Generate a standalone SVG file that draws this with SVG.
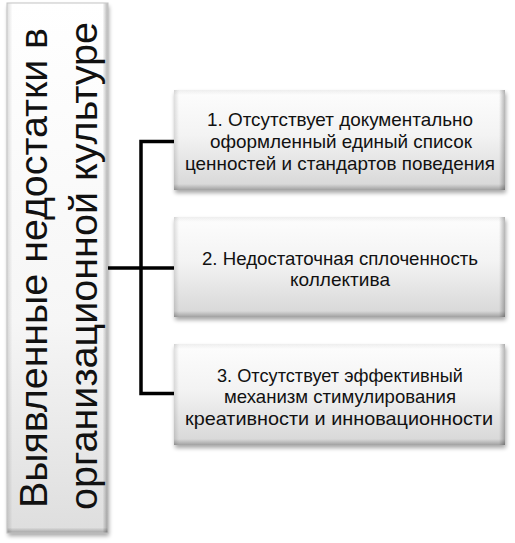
<svg xmlns="http://www.w3.org/2000/svg" width="515" height="543" viewBox="0 0 515 543">
<style>
  .lbl { font-family: "Liberation Sans", Arial, sans-serif; font-size: 19px; fill: #111; text-anchor: middle; }
  .big { font-family: "Liberation Sans", Arial, sans-serif; font-size: 39px; fill: #111; text-anchor: middle; }
  .conn { fill: none; stroke: #000; stroke-width: 3.5; stroke-linejoin: miter; stroke-linecap: butt; }
  .shadow { fill: #000; opacity: 0.35; filter: url(#blur); }
  .face { fill: url(#faceGrad); }
  .bevR { fill: url(#bevR); }
  .bevB { fill: url(#bevB); }
  .bevL { fill: url(#bevL); }
  .bevT { fill: url(#bevT); }
</style>
<defs>
  <filter id="blur" x="-10%" y="-10%" width="120%" height="130%">
    <feGaussianBlur stdDeviation="2.2"/>
  </filter>
  <linearGradient id="faceGrad" x1="0" y1="0" x2="0" y2="1">
    <stop offset="0" stop-color="#fdfdfd"/>
    <stop offset="0.45" stop-color="#f3f3f3"/>
    <stop offset="1" stop-color="#d6d6d6"/>
  </linearGradient>
  <linearGradient id="leftGrad" x1="0" y1="0" x2="0" y2="1">
    <stop offset="0" stop-color="#ffffff"/>
    <stop offset="0.6" stop-color="#f6f6f6"/>
    <stop offset="1" stop-color="#dedede"/>
  </linearGradient>
  <linearGradient id="bevR" x1="0" y1="0" x2="1" y2="0">
    <stop offset="0" stop-color="#000" stop-opacity="0"/>
    <stop offset="1" stop-color="#000" stop-opacity="0.28"/>
  </linearGradient>
  <linearGradient id="bevB" x1="0" y1="0" x2="0" y2="1">
    <stop offset="0" stop-color="#000" stop-opacity="0"/>
    <stop offset="1" stop-color="#000" stop-opacity="0.25"/>
  </linearGradient>
  <linearGradient id="bevL" x1="0" y1="0" x2="1" y2="0">
    <stop offset="0" stop-color="#000" stop-opacity="0.12"/>
    <stop offset="1" stop-color="#000" stop-opacity="0"/>
  </linearGradient>
  <linearGradient id="bevT" x1="0" y1="0" x2="0" y2="1">
    <stop offset="0" stop-color="#000" stop-opacity="0.06"/>
    <stop offset="1" stop-color="#000" stop-opacity="0"/>
  </linearGradient>
</defs>

<g id="node-main">
  <rect class="shadow" x="8" y="6" width="101" height="530"/>
  <rect x="7" y="3" width="101" height="530" fill="url(#leftGrad)" stroke="#c4c4c4" stroke-width="1"/>
  <rect class="bevL" x="7.5" y="3.5" width="5" height="529"/>
  <rect class="bevR" x="102.5" y="3.5" width="5" height="529"/>
  <rect class="bevB" x="7.5" y="527.5" width="100" height="5"/>
  <text class="big" transform="translate(47,268) rotate(-90)" textLength="480" lengthAdjust="spacingAndGlyphs">Выявленные недостатки в</text>
  <text class="big" transform="translate(97,266) rotate(-90)" textLength="488" lengthAdjust="spacingAndGlyphs">организационной культуре</text>
</g>

<g id="connectors">
  <path class="conn" d="M174,141.5 H141 V393.5 H174"/>
  <path class="conn" d="M108,268 H174"/>
</g>

<g id="node-1">
  <rect class="shadow" x="175" y="93" width="331" height="100"/>
  <rect class="face" x="174" y="90" width="331" height="100"/>
  <rect class="bevT" x="174" y="90" width="331" height="5"/>
  <rect class="bevL" x="174" y="90" width="5" height="100"/>
  <rect class="bevR" x="499" y="90" width="6" height="100"/>
  <rect class="bevB" x="174" y="184" width="331" height="6"/>
  <text class="lbl" x="340" y="126" textLength="266" lengthAdjust="spacingAndGlyphs">1. Отсутствует документально</text>
  <text class="lbl" x="341" y="148" textLength="262" lengthAdjust="spacingAndGlyphs">оформленный единый список</text>
  <text class="lbl" x="340" y="170" textLength="310" lengthAdjust="spacingAndGlyphs">ценностей и стандартов поведения</text>
</g>

<g id="node-2">
  <rect class="shadow" x="175" y="220" width="331" height="100"/>
  <rect class="face" x="174" y="217" width="331" height="100"/>
  <rect class="bevT" x="174" y="217" width="331" height="5"/>
  <rect class="bevL" x="174" y="217" width="5" height="100"/>
  <rect class="bevR" x="499" y="217" width="6" height="100"/>
  <rect class="bevB" x="174" y="311" width="331" height="6"/>
  <text class="lbl" x="340" y="264.5" textLength="276" lengthAdjust="spacingAndGlyphs">2. Недостаточная сплоченность</text>
  <text class="lbl" x="340" y="286" textLength="100" lengthAdjust="spacingAndGlyphs">коллектива</text>
</g>

<g id="node-3">
  <rect class="shadow" x="175" y="347" width="331" height="101"/>
  <rect class="face" x="174" y="344" width="331" height="101"/>
  <rect class="bevT" x="174" y="344" width="331" height="5"/>
  <rect class="bevL" x="174" y="344" width="5" height="101"/>
  <rect class="bevR" x="499" y="344" width="6" height="101"/>
  <rect class="bevB" x="174" y="439" width="331" height="6"/>
  <text class="lbl" x="340" y="381.5" textLength="246" lengthAdjust="spacingAndGlyphs">3. Отсутствует эффективный</text>
  <text class="lbl" x="340" y="403" textLength="232" lengthAdjust="spacingAndGlyphs">механизм стимулирования</text>
  <text class="lbl" x="339" y="424.5" textLength="308" lengthAdjust="spacingAndGlyphs">креативности и инновационности</text>
</g>
</svg>
